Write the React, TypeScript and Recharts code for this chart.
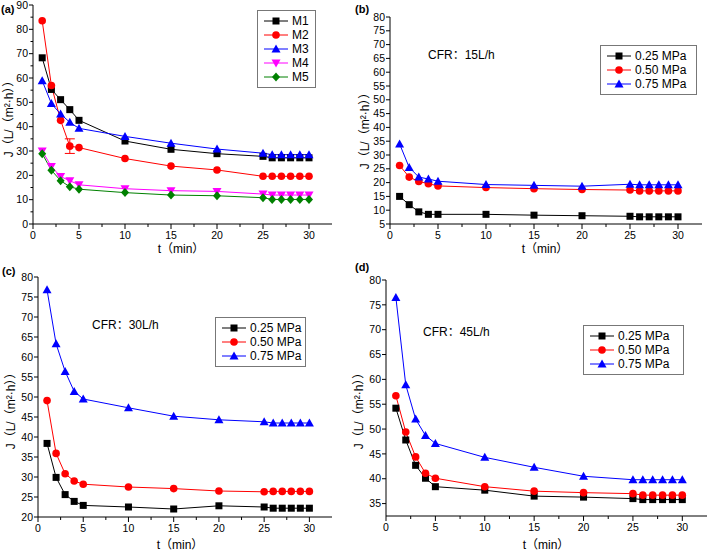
import React from "react";
import { ErrorBar, Legend, Line, LineChart, XAxis, YAxis } from "recharts";

const times = [1, 2, 3, 4, 5, 10, 15, 20, 25, 26, 27, 28, 29, 30];

// (a) different membranes
const m1 = [68.3, 55.3, 51.1, 47, 42.6, 34.1, 30.7, 28.9, 27.8, 27.2, 27.2, 27.2, 27.2, 27.2];
const m2 = [83.5, 56.9, 42.6, 32, 31.4, 26.9, 23.8, 22.2, 19.6, 19.6, 19.6, 19.6, 19.6, 19.6];
const m2Err = [0, 0, 0, 3, 0, 0, 0, 0, 0, 0, 0, 0, 0, 0];
const m3 = [58.9, 49.5, 45.2, 41.8, 39.3, 36, 33.2, 30.8, 29.1, 28.5, 28.5, 28.5, 28.5, 28.5];
const m4 = [30, 23.6, 19.5, 17.8, 16.1, 14.5, 13.7, 13.4, 12.3, 11.9, 11.9, 11.9, 11.9, 11.9];
const m5 = [28.9, 22.1, 17.8, 15.3, 14.3, 12.9, 11.9, 11.6, 10.8, 10.1, 10.1, 10.1, 10.1, 10.1];

// (b) CFR 15 L/h
const b025 = [15, 12, 9.4, 8.5, 8.5, 8.5, 8.2, 8, 7.8, 7.6, 7.6, 7.6, 7.6, 7.6];
const b050 = [26.2, 22, 20.4, 19.6, 18.8, 18.2, 17.8, 17.5, 17.3, 17, 17, 17, 17, 17];
const b075 = [34, 25.5, 22, 21.3, 20.5, 19.3, 19, 18.7, 19.4, 19.2, 19.2, 19.2, 19.2, 19.2];

// (c) CFR 30 L/h
const c025 = [38.4, 29.9, 25.6, 23.9, 22.9, 22.5, 22, 22.8, 22.5, 22.2, 22.2, 22.2, 22.2, 22.2];
const c050 = [49.1, 35.9, 30.8, 29, 28.2, 27.5, 27.1, 26.5, 26.3, 26.4, 26.4, 26.4, 26.4, 26.4];
const c075 = [76.8, 63.3, 56.4, 51.4, 49.5, 47.3, 45.2, 44.3, 43.8, 43.5, 43.5, 43.5, 43.5, 43.5];

// (d) CFR 45 L/h
const d025 = [54.2, 47.8, 42.7, 40.1, 38.4, 37.7, 36.5, 36.3, 36, 35.8, 35.8, 35.8, 35.8, 35.8];
const d050 = [56.7, 49.4, 44.4, 41.1, 40.1, 38.4, 37.5, 37.2, 37, 36.7, 36.7, 36.7, 36.7, 36.7];
const d075 = [76.5, 58.9, 52, 48.7, 47.1, 44.3, 42.3, 40.5, 39.8, 39.8, 39.8, 39.8, 39.8, 39.8];

const membraneNames = ["M1", "M2", "M3", "M4", "M5"];
const pressureNames = ["0.25 MPa", "0.50 MPa", "0.75 MPa"];

const xTicks = [0, 2.5, 5, 7.5, 10, 12.5, 15, 17.5, 20, 22.5, 25, 27.5, 30];
const yTicksA = [0, 5, 10, 15, 20, 25, 30, 35, 40, 45, 50, 55, 60, 65, 70, 75, 80, 85, 90];
const yTicksB = [5, 10, 15, 20, 25, 30, 35, 40, 45, 50, 55, 60, 65, 70, 75, 80];
const yTicksC = [20, 25, 30, 35, 40, 45, 50, 55, 60, 65, 70, 75, 80];
const yTicksD = [35, 40, 45, 50, 55, 60, 65, 70, 75, 80];

const colors = ["#000000", "#ff0000", "#0000ff", "#ff00ff", "#008000"];
const shapes = ["square", "circle", "triUp", "triDown", "diamond"];

const FONT = "'Liberation Sans', Arial, 'Noto Sans CJK SC', sans-serif";
const Y_TITLE = "J（L/（m²·h））";
const X_TITLE = "t（min）";

function Marker({ cx, cy, shape, color }: any) {
  if (cx == null || cy == null) return null;
  if (shape === "square") return <rect x={cx - 3.5} y={cy - 3.5} width={7} height={7} fill={color} />;
  if (shape === "circle") return <circle cx={cx} cy={cy} r={3.8} fill={color} />;
  if (shape === "triUp")
    return <polygon points={`${cx},${cy - 4.5} ${cx + 4.5},${cy + 3.5} ${cx - 4.5},${cy + 3.5}`} fill={color} />;
  if (shape === "triDown")
    return <polygon points={`${cx},${cy + 4.5} ${cx + 4.5},${cy - 3.5} ${cx - 4.5},${cy - 3.5}`} fill={color} />;
  return <polygon points={`${cx},${cy - 4.5} ${cx + 4},${cy} ${cx},${cy + 4.5} ${cx - 4},${cy}`} fill={color} />;
}

function XTick(props: any) {
  const { x, y, payload } = props;
  const v = payload.value;
  const major = v % 5 === 0;
  return (
    <g>
      <line x1={x} y1={y} x2={x} y2={y + (major ? 5 : 3)} stroke="#000" />
      {major && (
        <text x={x} y={y + 15} textAnchor="middle" fontSize={10.5} fontFamily={FONT} fill="#000">
          {v}
        </text>
      )}
    </g>
  );
}

function YTick(props: any, step: number) {
  const { x, y, payload } = props;
  const v = payload.value;
  const major = v % step === 0;
  return (
    <g>
      <line x1={x} y1={y} x2={x - (major ? 4 : 2.5)} y2={y} stroke="#000" />
      {major && (
        <text x={x - 5} y={y} dy="0.35em" textAnchor="end" fontSize={10.5} fontFamily={FONT} fill="#000">
          {v}
        </text>
      )}
    </g>
  );
}

function LegendBox(props: any, boxW: number) {
  const { payload } = props;
  return (
    <div
      style={{
        width: boxW,
        border: "1px solid #777",
        background: "#fff",
        padding: "3px 0 3px 0",
        boxSizing: "border-box",
      }}
    >
      {payload.map((entry: any, i: number) => (
        <div key={entry.value} style={{ display: "flex", alignItems: "center", height: 14 }}>
          <svg width={34} height={14} style={{ flex: "none" }}>
            <line x1={6} y1={7} x2={30} y2={7} stroke={entry.color} strokeWidth={1} />
            <Marker cx={18} cy={7} shape={shapes[i]} color={entry.color} />
          </svg>
          <span style={{ fontFamily: FONT, fontSize: 12, color: "#000", lineHeight: "14px" }}>{entry.value}</span>
        </div>
      ))}
    </div>
  );
}

function makeRows(series: number[][], names: string[], err?: number[]) {
  return times.map((t, i) => {
    const row: any = { t };
    names.forEach((n, k) => {
      row[n] = series[k][i];
    });
    if (err) row.err = err[i];
    return row;
  });
}

const rowsA = makeRows([m1, m2, m3, m4, m5], membraneNames, m2Err);
const rowsB = makeRows([b025, b050, b075], pressureNames);
const rowsC = makeRows([c025, c050, c075], pressureNames);
const rowsD = makeRows([d025, d050, d075], pressureNames);

type PanelProps = {
  left: number;
  top: number;
  width: number;
  height: number;
  margin: { top: number; right: number; bottom: number; left: number };
  yWidth: number;
  xHeight: number;
  yDomain: [number, number];
  yTicks: number[];
  yStep: number;
  rows: any[];
  names: string[];
  legendPos: { left: number; top: number; width: number };
  withError?: boolean;
};

function Panel(p: PanelProps) {
  return (
    <div style={{ position: "absolute", left: p.left, top: p.top }}>
      <LineChart width={p.width} height={p.height} data={p.rows} margin={p.margin}>
        <XAxis
          dataKey="t"
          type="number"
          domain={[0, 32.5]}
          ticks={xTicks}
          interval={0}
          tickSize={0}
          tickMargin={0}
          tickLine={false}
          height={p.xHeight}
          axisLine={{ stroke: "#000" }}
          tick={(props: any) => <XTick {...props} />}
        />
        <YAxis
          type="number"
          domain={p.yDomain}
          ticks={p.yTicks}
          interval={0}
          tickSize={0}
          tickMargin={0}
          tickLine={false}
          width={p.yWidth}
          axisLine={{ stroke: "#000" }}
          tick={(props: any) => YTick(props, p.yStep)}
        />
        <Legend
          layout="vertical"
          align="center"
          verticalAlign="middle"
          wrapperStyle={{ position: "absolute", left: p.legendPos.left, top: p.legendPos.top, width: p.legendPos.width }}
          content={(props: any) => LegendBox(props, p.legendPos.width)}
        />
        {p.names.map((n, k) => (
          <Line
            key={n}
            dataKey={n}
            name={n}
            stroke={colors[k]}
            strokeWidth={1}
            isAnimationActive={false}
            dot={(dp: any) => <Marker key={`${n}-${dp.index}`} cx={dp.cx} cy={dp.cy} shape={shapes[k]} color={colors[k]} />}
            activeDot={false}
          >
            {p.withError && k === 1 && (
              <ErrorBar dataKey="err" direction="y" width={5} stroke={colors[1]} strokeWidth={1} isAnimationActive={false} />
            )}
          </Line>
        ))}
      </LineChart>
    </div>
  );
}

const labelStyle: React.CSSProperties = {
  position: "absolute",
  fontFamily: FONT,
  color: "#000",
  whiteSpace: "nowrap",
  lineHeight: 1,
};

function YTitle({ x, y }: { x: number; y: number }) {
  return (
    <div
      style={{
        ...labelStyle,
        left: x,
        top: y,
        fontSize: 12,
        transform: "translate(-50%, -50%) rotate(-90deg)",
      }}
    >
      {Y_TITLE}
    </div>
  );
}

function XTitle({ x, y }: { x: number; y: number }) {
  return (
    <div style={{ ...labelStyle, left: x, top: y, fontSize: 12, transform: "translate(-50%, -50%)" }}>{X_TITLE}</div>
  );
}

function Tag({ x, y, text }: { x: number; y: number; text: string }) {
  return <div style={{ ...labelStyle, left: x, top: y, fontSize: 11, fontWeight: "bold" }}>{text}</div>;
}

function Note({ x, y, text }: { x: number; y: number; text: string }) {
  return <div style={{ ...labelStyle, left: x, top: y, fontSize: 12 }}>{text}</div>;
}

export default function App() {
  return (
    <div style={{ position: "absolute", left: 0, top: 0, width: 709, height: 551, background: "#fff", overflow: "hidden" }}>
      <Panel
        left={0}
        top={0}
        width={345}
        height={265}
        margin={{ top: 5, right: 13, bottom: 0, left: 0 }}
        yWidth={33}
        xHeight={41}
        yDomain={[0, 90]}
        yTicks={yTicksA}
        yStep={10}
        rows={rowsA}
        names={membraneNames}
        legendPos={{ left: 257, top: 10, width: 59 }}
        withError
      />
      <Panel
        left={355}
        top={0}
        width={354}
        height={265}
        margin={{ top: 17, right: 7, bottom: 0, left: 0 }}
        yWidth={35}
        xHeight={41}
        yDomain={[5, 80]}
        yTicks={yTicksB}
        yStep={5}
        rows={rowsB}
        names={pressureNames}
        legendPos={{ left: 245, top: 45, width: 97 }}
      />
      <Panel
        left={0}
        top={265}
        width={345}
        height={286}
        margin={{ top: 12, right: 13, bottom: 0, left: 0 }}
        yWidth={38}
        xHeight={34}
        yDomain={[20, 80]}
        yTicks={yTicksC}
        yStep={5}
        rows={rowsC}
        names={pressureNames}
        legendPos={{ left: 215, top: 52, width: 91 }}
      />
      <Panel
        left={355}
        top={265}
        width={354}
        height={286}
        margin={{ top: 15, right: 2, bottom: 0, left: 0 }}
        yWidth={31}
        xHeight={35}
        yDomain={[32.5, 80]}
        yTicks={yTicksD}
        yStep={5}
        rows={rowsD}
        names={pressureNames}
        legendPos={{ left: 228, top: 60, width: 101 }}
      />

      <Tag x={1} y={4} text="(a)" />
      <Tag x={355} y={4} text="(b)" />
      <Tag x={2} y={266} text="(c)" />
      <Tag x={355} y={262} text="(d)" />

      <YTitle x={9} y={116} />
      <YTitle x={365} y={128} />
      <YTitle x={11} y={408} />
      <YTitle x={359} y={408} />

      <XTitle x={181} y={249} />
      <XTitle x={545} y={249} />
      <XTitle x={180} y={545} />
      <XTitle x={546} y={545} />

      <Note x={428} y={49} text="CFR：15L/h" />
      <Note x={92} y={319} text="CFR：30L/h" />
      <Note x={423} y={326} text="CFR：45L/h" />
    </div>
  );
}
